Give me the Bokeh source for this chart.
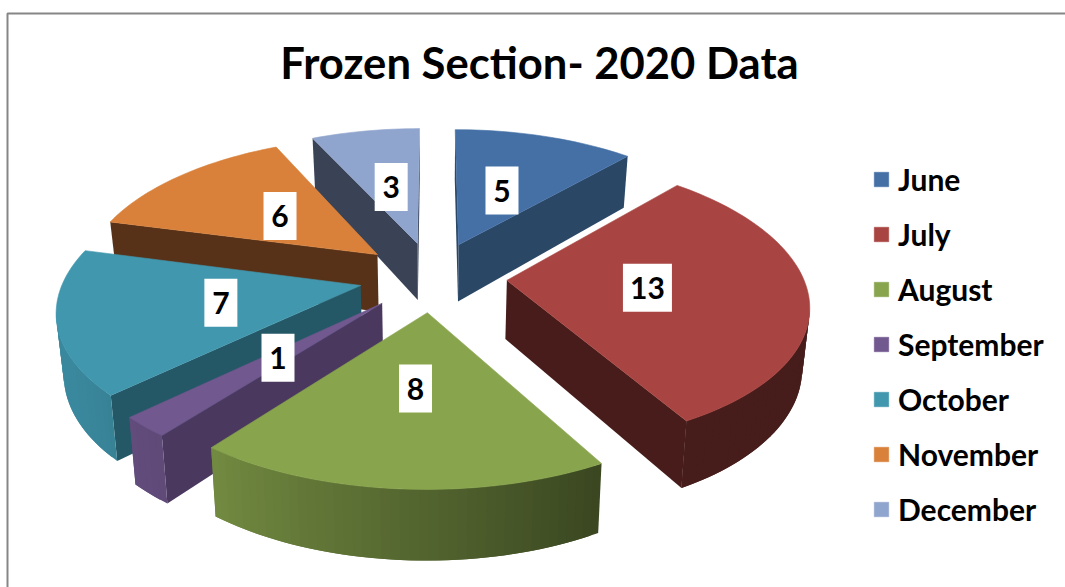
import numpy as np
from bokeh.plotting import figure
from bokeh.models import Range1d, Legend, LegendItem, ColumnDataSource
from bokeh.core.properties import value
from bokeh.embed import file_html
from bokeh.resources import INLINE

months = ["June", "July", "August", "September", "October", "November", "December"]
counts = [5, 13, 8, 1, 7, 6, 3]
top_colors = ["#4570a6", "#a84442", "#88a54d", "#71588f", "#4197ae", "#d9813b", "#90a5cd"]
cut_colors = ["#2a4766", "#471c1a", "#3c4a20", "#4a385e", "#255866", "#583218", "#3a4256"]
title_text = "Frozen Section- 2020 Data"

FONT = "Lato"
cx, cy = 432.5, 276.0
A, B, D, DX = 296.0, 140.0, 7.0, 6.5
EXPLODE, H, BOTTOM_SCALE = 0.25, 58.5, 0.98
LABEL_R = 0.47


def project(X, Y, bottom=False):
    w = 1.0 / (1.0 - Y / D)
    wx = 1.0 / (1.0 - Y / DX)
    sx, sy = cx + A * X * wx, cy + B * Y * w
    if bottom:
        sx, sy = cx + (sx - cx) * BOTTOM_SCALE, sy + H * w
    return sx, sy


def ground(apex, t):
    return apex[0] + np.sin(t), apex[1] - np.cos(t)


def faces_viewer(a, b, inner):
    ex, ey = b[0] - a[0], b[1] - a[1]
    return (ex * (inner[1] - a[1]) - ey * (inner[0] - a[0])) * (ex * 1.0) < 0


def shade(hex_color, f):
    rgb = [int(hex_color[i:i + 2], 16) for i in (1, 3, 5)]
    return "#%02x%02x%02x" % tuple(int(round(c * f)) for c in rgb)


def wall_factor(deg):
    return float(np.interp(deg, [0, 150, 218, 240, 360], [0.43, 0.42, 0.84, 0.9, 0.9]))


total = sum(counts)
edges = np.concatenate([[0], np.cumsum(counts)]) / total * 2 * np.pi

slices = []
for i in range(len(counts)):
    t0, t1 = edges[i], edges[i + 1]
    m = (t0 + t1) / 2
    apex = (EXPLODE * np.sin(m), -EXPLODE * np.cos(m))
    slices.append(dict(i=i, t0=t0, t1=t1, m=m, apex=apex))
slices.sort(key=lambda s: project(*s["apex"])[1])

p = figure(width=1065, height=587, x_range=Range1d(0, 1065), y_range=Range1d(587, 0),
           output_backend="svg", toolbar_location=None, min_border=0,
           outline_line_color=None, background_fill_color="white", border_fill_color="white")
p.axis.visible = False
p.grid.visible = False

p.quad(left=[7], right=[1200], top=[13], bottom=[700], fill_color=None,
       line_color="#868686", line_width=2)

legend_renderers = {}
for s in slices:
    i, t0, t1, m, apex = s["i"], s["t0"], s["t1"], s["m"], s["apex"]
    ts = np.linspace(t0, t1, max(3, int(np.degrees(t1 - t0) / 1.5) + 1))
    mid = project(*ground(apex, m))
    xs_side, ys_side, cols = [], [], []
    for t in (t0, t1):
        a = project(*apex)
        b = project(*ground(apex, t))
        if faces_viewer(a, b, mid):
            a2 = project(*apex, bottom=True)
            b2 = project(*ground(apex, t), bottom=True)
            xs_side.append([a[0], b[0], b2[0], a2[0]])
            ys_side.append([a[1], b[1], b2[1], a2[1]])
            cols.append(cut_colors[i])
    # outer wall: each strip overlaps the next one so no seams show
    n = len(ts)
    for k in range(n - 1):
        u, v = ts[k], ts[min(k + 2, n - 1)]
        if faces_viewer(project(*ground(apex, ts[k])), project(*ground(apex, ts[k + 1])), project(*apex)):
            a = project(*ground(apex, u))
            b = project(*ground(apex, v))
            a2 = project(*ground(apex, u), bottom=True)
            b2 = project(*ground(apex, v), bottom=True)
            xs_side.append([a[0], b[0], b2[0], a2[0]])
            ys_side.append([a[1], b[1], b2[1], a2[1]])
            cols.append(shade(top_colors[i], wall_factor(np.degrees((ts[k] + ts[k + 1]) / 2))))
    if xs_side:
        p.patches(xs="x", ys="y", fill_color="c", line_color=None,
                  source=ColumnDataSource(dict(x=xs_side, y=ys_side, c=cols)))
    pts = [project(*apex)] + [project(*ground(apex, t)) for t in ts]
    legend_renderers[i] = p.patch([q[0] for q in pts], [q[1] for q in pts],
                                  fill_color=top_colors[i], line_color=top_colors[i], line_width=0.6)

lx, ly, lt, lw = [], [], [], []
for s in slices:
    r = EXPLODE + LABEL_R
    q = project(r * np.sin(s["m"]), -r * np.cos(s["m"]))
    lx.append(q[0]); ly.append(q[1]); lt.append(str(counts[s["i"]]))
    lw.append(16 * len(lt[-1]) + 17)
src = ColumnDataSource(dict(x=lx, y=ly, t=lt, w=lw))
p.rect(x="x", y="y", width="w", height=48, fill_color="white", line_color=None, source=src)
p.text(x="x", y="y", text="t", text_font=value(FONT), text_font_style="bold",
       text_font_size="30px", text_color="black", text_align="center",
       text_baseline="middle", source=src)

p.text(x=[539], y=[61], text=[title_text], text_font=value(FONT), text_font_style="bold",
       text_font_size="43.6px", text_color="black", text_align="center", text_baseline="middle")

legend = Legend(items=[LegendItem(label=months[i], renderers=[legend_renderers[i]]) for i in range(len(months))],
                location=(872, 60), orientation="vertical",
                background_fill_alpha=0, border_line_color=None, margin=0, padding=0,
                glyph_width=18, glyph_height=18, label_standoff=8, spacing=19,
                label_text_font=FONT, label_text_font_style="bold", label_text_font_size="30px",
                label_text_color="black", label_height=18, click_policy="none")
p.add_layout(legend, "center")

open("out.html", "w").write(file_html(p, INLINE))
